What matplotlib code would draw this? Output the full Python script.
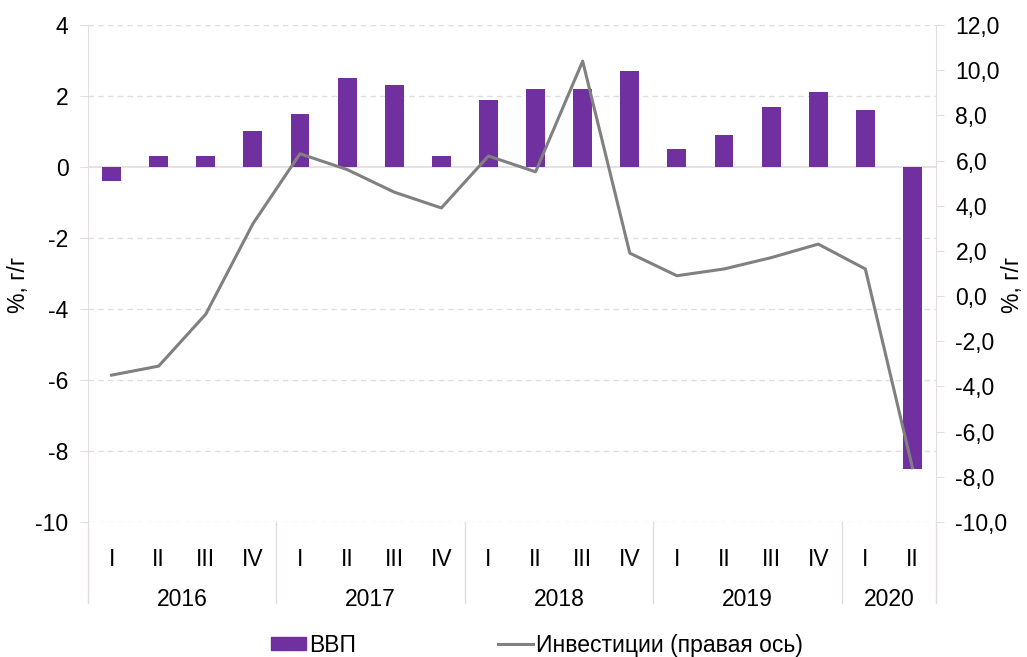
import matplotlib.pyplot as plt
import numpy as np
from matplotlib.lines import Line2D
from matplotlib.patches import Patch

quarters = ["I", "II", "III", "IV"] * 4 + ["I", "II"]
years = ["2016", "2017", "2018", "2019", "2020"]
year_counts = [4, 4, 4, 4, 2]

gdp = [-0.4, 0.3, 0.3, 1.0, 1.5, 2.5, 2.3, 0.3, 1.9, 2.2, 2.2, 2.7,
       0.5, 0.9, 1.7, 2.1, 1.6, -8.5]
investment = [-3.5, -3.1, -0.8, 3.2, 6.3, 5.6, 4.6, 3.9, 6.2, 5.5, 10.4, 1.9,
              0.9, 1.2, 1.7, 2.3, 1.2, -7.6]

BAR = "#7030a0"
LINE = "#808080"
GRID = "#e3dcdf"

plt.rcParams["font.family"] = ["Liberation Sans", "DejaVu Sans"]
plt.rcParams["font.size"] = 16.5
plt.rcParams["axes.unicode_minus"] = False

fig = plt.figure(figsize=(10.27, 6.57), dpi=100)
ax = fig.add_axes([0.0857, 0.2055, 0.8257, 0.7565])
x = np.arange(len(gdp))

ax.bar(x, gdp, width=0.4, color=BAR, zorder=3)
ax.set_xlim(-0.5, len(gdp) - 0.5)
ax.set_ylim(-10, 4)
ax.set_yticks(np.arange(-10, 5, 2))
ax.set_xticks([])
for v in np.arange(-10, 5, 2):
    if v != 0:
        ax.axhline(v, color=GRID, lw=1.0, ls=(0, (4, 3)), zorder=1)
ax.axhline(0, color=GRID, lw=1.2, zorder=2)
for name in ["top", "bottom", "right"]:
    ax.spines[name].set_visible(False)
ax.spines["left"].set_color(GRID)
ax.tick_params(axis="y", length=6, color=GRID, pad=8)

ax2 = ax.twinx()
ax2.plot(x, investment, color=LINE, lw=2.2, zorder=4)
ax2.set_ylim(-10, 12)
ax2.set_yticks(np.arange(-10, 13, 2))
ax2.set_yticklabels([f"{v:.1f}".replace(".", ",") for v in np.arange(-10, 13, 2)])
for name in ["top", "bottom", "left"]:
    ax2.spines[name].set_visible(False)
ax2.spines["right"].set_color(GRID)
ax2.tick_params(axis="y", length=6, color=GRID, pad=8)

fig.text(0.018, 0.566, "%, г/г", rotation=90, ha="center", va="center")
fig.text(0.986, 0.566, "%, г/г", rotation=90, ha="center", va="center")

# two-level category axis
trans = ax.get_xaxis_transform()
for i, q in enumerate(quarters):
    ax.text(i, -0.075, q, ha="center", va="center", transform=trans)
bounds = np.concatenate([[0], np.cumsum(year_counts)]) - 0.5
for k, yr in enumerate(years):
    mid = (bounds[k] + bounds[k + 1]) / 2
    ax.text(mid, -0.155, yr, ha="center", va="center", transform=trans)
for b in bounds:
    ax.add_line(Line2D([b, b], [0, -0.162], transform=trans, color=GRID,
                       lw=1.0, clip_on=False))

handles = [Patch(color=BAR), Line2D([], [], color=LINE, lw=2.2)]
fig.legend(handles, ["ВВП", "Инвестиции (правая ось)"], loc="center",
           bbox_to_anchor=(0.523, 0.018), ncol=2, frameon=False,
           handlelength=1.5, handleheight=0.55, handletextpad=0.15,
           columnspacing=6.2)

fig.savefig("out.png", dpi=100)
